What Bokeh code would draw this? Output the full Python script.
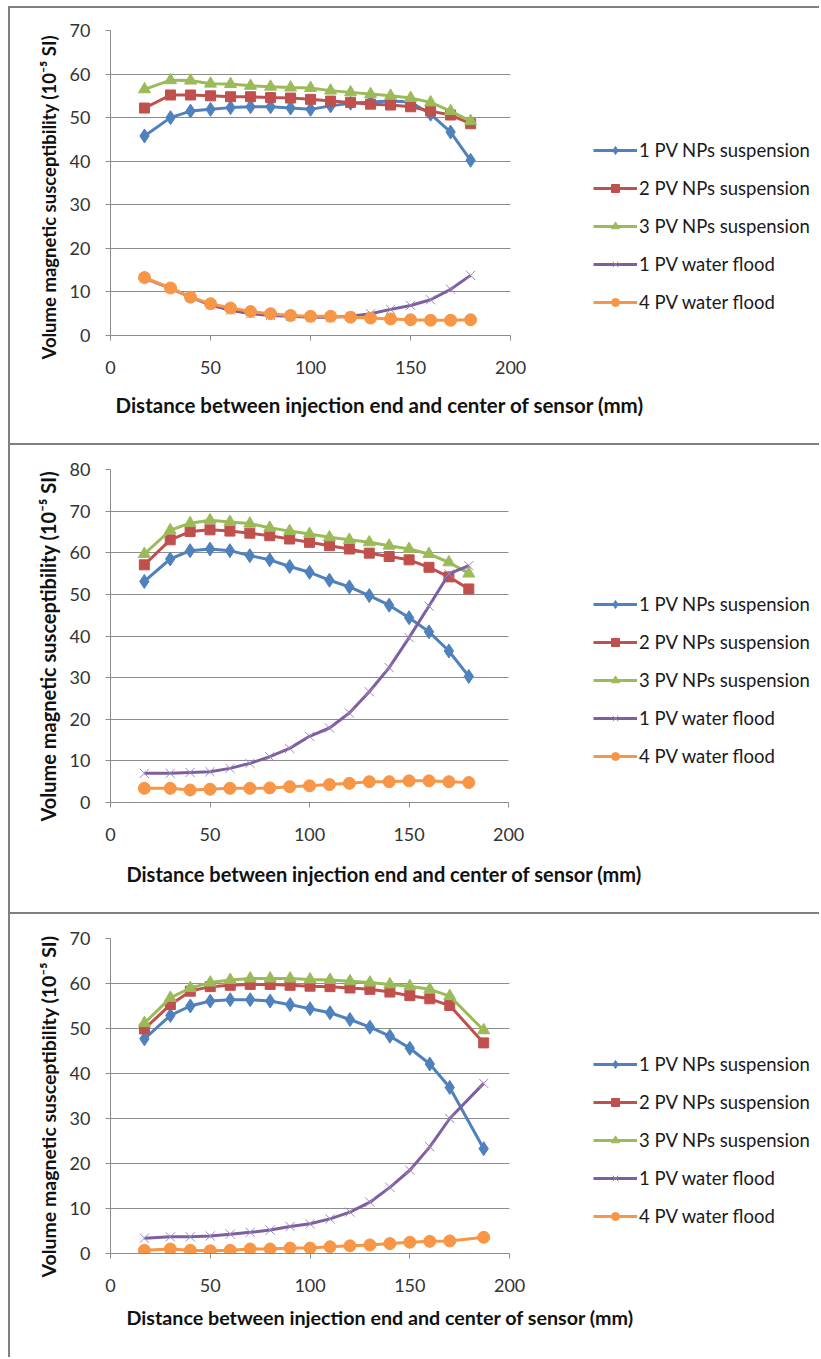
from bokeh.plotting import figure
from bokeh.models import FixedTicker, Legend, LegendItem, Range1d, Title
from bokeh.layouts import column
from bokeh.embed import file_html
from bokeh.resources import INLINE

# ---------------- data ----------------
series_names = ["1 PV NPs suspension", "2 PV NPs suspension", "3 PV NPs suspension",
                "1 PV water flood", "4 PV water flood"]

x_ab = [17, 30, 40, 50, 60, 70, 80, 90, 100, 110, 120, 130, 140, 150, 160, 170, 180]
x_c = [17, 30, 40, 50, 60, 70, 80, 90, 100, 110, 120, 130, 140, 150, 160, 170, 187]

a_np1 = [45.8, 50.0, 51.5, 51.9, 52.3, 52.5, 52.5, 52.2, 51.9, 52.7, 53.3, 53.6, 53.8, 53.6, 50.8, 46.7, 40.2]
a_np2 = [52.2, 55.2, 55.2, 55.0, 54.8, 54.8, 54.6, 54.5, 54.2, 53.8, 53.5, 53.1, 52.9, 52.5, 51.5, 50.6, 48.6]
a_np3 = [56.5, 58.6, 58.5, 57.8, 57.7, 57.3, 57.1, 56.9, 56.8, 56.2, 55.8, 55.4, 55.0, 54.5, 53.5, 51.5, 49.2]
a_wf1 = [13.2, 10.8, 8.8, 7.0, 5.8, 5.0, 4.6, 4.4, 4.2, 4.2, 4.4, 5.0, 6.0, 6.9, 8.2, 10.6, 13.8]
a_wf4 = [13.3, 10.9, 8.8, 7.3, 6.3, 5.5, 5.0, 4.6, 4.4, 4.4, 4.2, 4.0, 3.8, 3.6, 3.5, 3.5, 3.6]

b_np1 = [53.1, 58.5, 60.5, 60.9, 60.5, 59.3, 58.3, 56.7, 55.3, 53.4, 51.8, 49.7, 47.4, 44.4, 41.0, 36.4, 30.3]
b_np2 = [57.1, 63.1, 65.1, 65.5, 65.2, 64.7, 64.1, 63.3, 62.5, 61.7, 60.9, 59.9, 59.1, 58.3, 56.5, 54.2, 51.3]
b_np3 = [59.7, 65.4, 67.1, 67.8, 67.4, 67.0, 66.0, 65.2, 64.5, 63.7, 63.1, 62.5, 61.7, 60.9, 59.7, 57.7, 55.0]
b_wf1 = [7.0, 7.0, 7.2, 7.4, 8.2, 9.4, 11.0, 13.0, 15.9, 17.9, 21.5, 26.6, 32.4, 39.6, 47.2, 54.9, 56.9]
b_wf4 = [3.4, 3.4, 3.0, 3.2, 3.4, 3.4, 3.5, 3.8, 4.0, 4.3, 4.6, 5.0, 5.0, 5.2, 5.2, 5.0, 4.8]

c_np1 = [47.7, 52.9, 55.0, 56.1, 56.4, 56.4, 56.1, 55.3, 54.4, 53.5, 52.0, 50.3, 48.3, 45.6, 42.1, 36.9, 23.3]
c_np2 = [49.9, 55.3, 58.3, 59.3, 59.6, 59.8, 59.8, 59.6, 59.4, 59.3, 59.0, 58.7, 58.1, 57.3, 56.6, 55.1, 46.8]
c_np3 = [51.2, 56.8, 59.0, 60.2, 60.8, 61.1, 61.1, 61.1, 60.9, 60.8, 60.5, 60.2, 59.8, 59.4, 58.7, 57.2, 49.6]
c_wf1 = [3.4, 3.7, 3.7, 3.9, 4.3, 4.7, 5.2, 6.0, 6.6, 7.7, 9.2, 11.4, 14.7, 18.5, 23.7, 30.0, 37.8]
c_wf4 = [0.7, 1.0, 0.7, 0.6, 0.7, 1.0, 1.0, 1.2, 1.2, 1.5, 1.7, 1.9, 2.2, 2.5, 2.7, 2.8, 3.6]

x_ticks = [0, 50, 100, 150, 200]
x_min, x_max = 0, 200
y_max_a, y_max_b, y_max_c = 70, 80, 70

x_title = "Distance between injection end and center of sensor (mm)"
y_title = "Volume magnetic susceptibility (10\u207b\u2075 SI)"

# ---------------- style ----------------
colors = ["#4F81BD", "#C0504D", "#9BBB59", "#7D5FA0", "#F79646"]
markers = ["diamond", "square", "triangle", "x", "circle"]
msizes = [14, 10, 12, 13, 12]
GRID = "#8C8C8C"
BORDER = "2px solid #808080"
FONT = "Lato"
FRAME_W = 709          # plotting frame spans to the right edge (legend lives inside it)


def panel(xs, ys_list, ymax, fh, axis_px, top, bottom, margin_top,
          xt_size, xt_off, xt_standoff, yt_size, yt_off, legend_loc):
    # axis_px: pixel length of the 0..200 axis in this panel
    x_end = x_max * FRAME_W / axis_px
    p = figure(frame_width=FRAME_W, frame_height=fh, output_backend="svg", toolbar_location=None,
               x_range=Range1d(x_min, x_end), y_range=Range1d(0, ymax),
               min_border_left=100, min_border_right=0,
               min_border_top=top, min_border_bottom=bottom,
               background_fill_color="white", border_fill_color="white",
               margin=(margin_top, 0, 0, 8),
               styles={"border-top": BORDER, "border-left": BORDER})
    p.outline_line_color = None
    p.xgrid.grid_line_color = None
    p.ygrid.grid_line_color = GRID
    p.ygrid.grid_line_width = 1
    p.ygrid.cross_bounds = (x_min, x_max)
    p.xaxis.bounds = (x_min, x_max)
    p.xaxis.ticker = FixedTicker(ticks=x_ticks)
    p.yaxis.ticker = FixedTicker(ticks=list(range(0, ymax + 1, 10)))
    for ax in (p.xaxis[0], p.yaxis[0]):
        ax.axis_line_color = GRID
        ax.major_tick_line_color = GRID
        ax.major_tick_out = 5
        ax.major_tick_in = 0
        ax.minor_tick_line_color = None
        ax.major_label_text_font = FONT
        ax.major_label_text_font_size = "18px"
        ax.major_label_text_color = "#333333"
    p.xaxis.major_label_standoff = 20
    p.yaxis.major_label_standoff = 15

    items = []
    for ys, name, col, mk, ms in zip(ys_list, series_names, colors, markers, msizes):
        r_line = p.line(xs, ys, line_color=col, line_width=3)
        if mk == "x":
            r_mk = p.scatter(xs, ys, marker="x", size=ms, line_color="#9C88C0", line_width=1)
        else:
            r_mk = p.scatter(xs, ys, marker=mk, size=ms, fill_color=col, line_color=col)
        items.append(LegendItem(label=name, renderers=[r_line, r_mk]))

    leg = Legend(items=items, location=legend_loc, margin=0, padding=0,
                 spacing=16, glyph_width=44, glyph_height=20, label_height=20,
                 label_standoff=2, label_text_font=FONT, label_text_font_size="18.5px",
                 label_text_color="#1a1a1a", border_line_color=None,
                 background_fill_alpha=0, orientation="vertical")
    p.add_layout(leg)

    p.add_layout(Title(text=x_title, align="left", offset=xt_off, standoff=xt_standoff,
                       text_font=FONT, text_font_style="bold", text_font_size=xt_size,
                       text_color="#111111"), "below")
    p.add_layout(Title(text=y_title, align="left", offset=yt_off, standoff=14,
                       text_font=FONT, text_font_style="bold", text_font_size=yt_size,
                       text_color="#111111"), "left")
    return p


p1 = panel(x_ab, [a_np1, a_np2, a_np3, a_wf1, a_wf4], y_max_a, 303, 399, 22, 110, 6,
           "20.5px", 5, 28, "18.5px", -24, (483, 22))
p2 = panel(x_ab, [b_np1, b_np2, b_np3, b_wf1, b_wf4], y_max_b, 331, 397, 24, 112, 0,
           "20px", 16, 33, "20px", -19, (483, 35))
p3 = panel(x_c, [c_np1, c_np2, c_np3, c_wf1, c_wf4], y_max_c, 313, 398, 24, 106, 0,
           "19.7px", 16, 18, "19.5px", -24, (483, 26))

layout = column(p1, p2, p3, spacing=0)
open("out.html", "w").write(file_html(layout, INLINE))
